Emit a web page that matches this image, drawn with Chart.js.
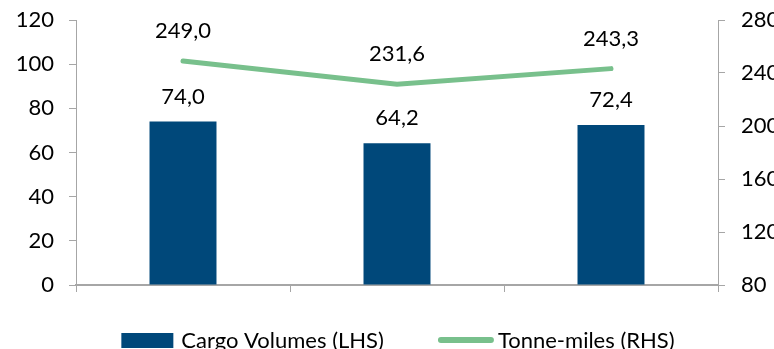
<!DOCTYPE html>
<html>
<head>
<meta charset="utf-8">
<script src="https://cdn.jsdelivr.net/npm/chart.js@4/dist/chart.umd.min.js"></script>
<style>
  html, body { margin: 0; padding: 0; background: #ffffff; overflow: hidden; }
  #wrap { width: 774px; height: 349px; position: relative; }
</style>
</head>
<body>
<div id="wrap"><canvas id="chart"></canvas></div>
<script>
// Categories (periods) – not labelled on the axis
const categories = ['', '', ''];
// Cargo volumes, left axis
const cargoVolumes = [74.0, 64.2, 72.4];
// Tonne-miles, right axis
const tonneMiles = [249.0, 231.6, 243.3];
// Axis ranges
const leftTicks = [0, 20, 40, 60, 80, 100, 120];
const rightTicks = [80, 120, 160, 200, 240, 280];

const FONT = 'Lato, "Open Sans", sans-serif';
const FONT_SIZE = 22;
const LEGEND_FONT_SIZE = 22;
const AXIS_GREY = '#a6a6a6';
const BAR_BLUE = '#00487a';
const LINE_GREEN = '#78c08c';

const fmt = v => v.toFixed(1).replace('.', ',');

// Value labels above bars and line points
const valueLabels = {
  id: 'valueLabels',
  afterDatasetsDraw(chart) {
    const ctx = chart.ctx;
    ctx.save();
    ctx.font = FONT_SIZE + 'px ' + FONT;
    ctx.fillStyle = '#000000';
    ctx.textAlign = 'center';
    ctx.textBaseline = 'middle';
    chart.data.datasets.forEach((ds, di) => {
      const meta = chart.getDatasetMeta(di);
      const lift = ds.type === 'line' ? 30 : 25;
      meta.data.forEach((el, i) => {
        ctx.fillText(fmt(ds.data[i]), el.x, el.y - lift);
      });
    });
    ctx.restore();
  }
};

// Legend along the bottom edge
const bottomLegend = {
  id: 'bottomLegend',
  afterDraw(chart) {
    const ctx = chart.ctx;
    ctx.save();
    ctx.font = LEGEND_FONT_SIZE + 'px ' + FONT;
    ctx.textBaseline = 'middle';
    ctx.textAlign = 'left';
    const y = 341;
    const symW = 54, textGap = 6, itemGap = 54;
    const items = chart.data.datasets.map(ds => ({ ds, tw: ctx.measureText(ds.label).width }));
    const total = items.reduce((s, it) => s + symW + textGap + it.tw, 0) + itemGap * (items.length - 1);
    let x = 398 - total / 2;
    items.forEach(({ ds, tw }) => {
      if (ds.type === 'line') {
        ctx.strokeStyle = ds.borderColor;
        ctx.lineWidth = 6;
        ctx.lineCap = 'round';
        ctx.beginPath();
        ctx.moveTo(x + 3, y - 1);
        ctx.lineTo(x + symW - 1, y - 1);
        ctx.stroke();
      } else {
        ctx.fillStyle = ds.backgroundColor;
        ctx.fillRect(x, y - 8, symW - 2, 15);
      }
      x += symW + textGap;
      ctx.fillStyle = '#000000';
      ctx.fillText(ds.label, x, y);
      x += tw + itemGap;
    });
    ctx.restore();
  }
};

// Vertical axes: fixed width, no extra room reserved for label overhang
const fitVertical = width => scale => {
  scale.width = width;
  scale.paddingTop = 0;
  scale.paddingBottom = 0;
};

new Chart(document.getElementById('chart'), {
  data: {
    labels: categories,
    datasets: [
      {
        type: 'bar',
        label: 'Cargo Volumes (LHS)',
        data: cargoVolumes,
        yAxisID: 'yLeft',
        backgroundColor: BAR_BLUE,
        borderWidth: 0,
        categoryPercentage: 1,
        barPercentage: 0.313,
        order: 1
      },
      {
        type: 'line',
        label: 'Tonne-miles (RHS)',
        data: tonneMiles,
        yAxisID: 'yRight',
        borderColor: LINE_GREEN,
        backgroundColor: LINE_GREEN,
        borderWidth: 5,
        borderCapStyle: 'round',
        pointRadius: 0,
        tension: 0,
        order: 0
      }
    ]
  },
  options: {
    responsive: true,
    maintainAspectRatio: false,
    animation: false,
    events: [],
    layout: { padding: { top: 20, left: 0, right: 0, bottom: 0 } },
    plugins: {
      legend: { display: false },
      tooltip: { enabled: false }
    },
    scales: {
      x: {
        offset: true,
        grid: {
          offset: true,
          drawOnChartArea: false,
          drawTicks: true,
          tickLength: 7,
          color: AXIS_GREY,
          lineWidth: 1
        },
        border: { display: true, color: AXIS_GREY, width: 2 },
        ticks: { display: false },
        afterFit(scale) { scale.height = 64; scale.paddingLeft = 0; scale.paddingRight = 0; }
      },
      yLeft: {
        position: 'left',
        min: leftTicks[0],
        max: leftTicks[leftTicks.length - 1],
        afterBuildTicks(scale) { scale.ticks = leftTicks.map(v => ({ value: v })); },
        grid: { drawOnChartArea: false, drawTicks: true, tickLength: 7, color: AXIS_GREY },
        border: { display: true, color: AXIS_GREY, width: 1 },
        ticks: { color: '#000000', padding: 15, font: { family: FONT, size: FONT_SIZE } },
        afterFit: fitVertical(76)
      },
      yRight: {
        position: 'right',
        min: rightTicks[0],
        max: rightTicks[rightTicks.length - 1],
        afterBuildTicks(scale) { scale.ticks = rightTicks.map(v => ({ value: v })); },
        grid: { drawOnChartArea: false, drawTicks: true, tickLength: 7, color: AXIS_GREY },
        border: { display: true, color: AXIS_GREY, width: 1 },
        ticks: { color: '#000000', padding: 16, font: { family: FONT, size: FONT_SIZE } },
        afterFit: fitVertical(56)
      }
    }
  },
  plugins: [valueLabels, bottomLegend]
});
</script>
</body>
</html>
